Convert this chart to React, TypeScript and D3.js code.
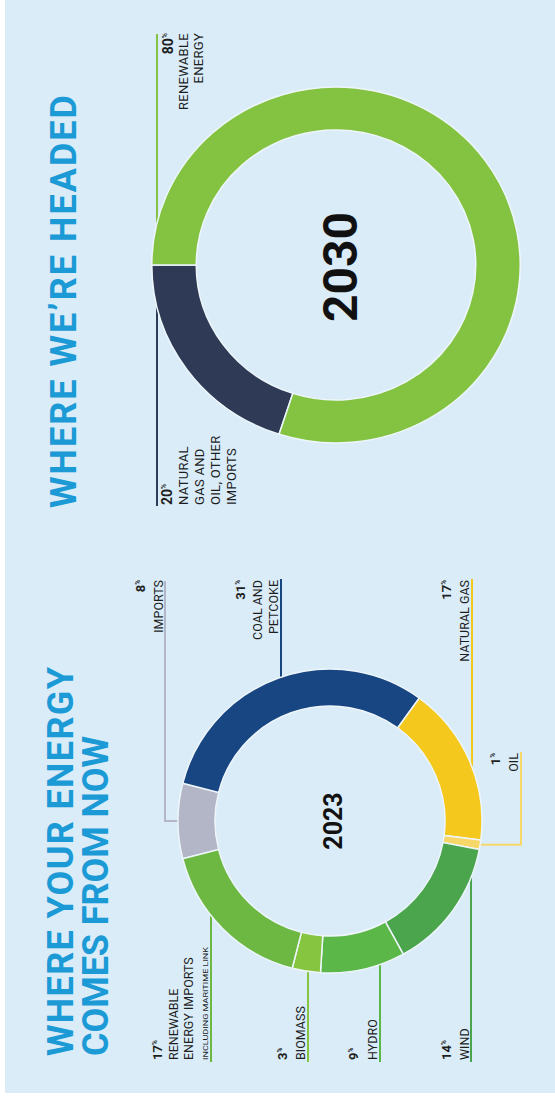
import React from "react";
import * as d3 from "d3";

// ---------- DATA ----------
const nowCategories = [
  "IMPORTS",
  "COAL AND PETCOKE",
  "NATURAL GAS",
  "OIL",
  "WIND",
  "HYDRO",
  "BIOMASS",
  "RENEWABLE ENERGY IMPORTS",
];
const nowValues = [8, 31, 17, 1, 14, 9, 3, 17];
const nowColors = ["#b3b6c6", "#174682", "#f4c81c", "#f8d769", "#4aa54c", "#5bb747", "#86c540", "#6cb843"];

const futureCategories = ["NATURAL GAS AND OIL, OTHER IMPORTS", "RENEWABLE ENERGY"];
const futureValues = [20, 80];
const futureColors = ["#2f3b56", "#84c341"];

const nowTitle = ["WHERE YOUR ENERGY", "COMES FROM NOW"];
const futureTitle = "WHERE WE\u2019RE HEADED";

// label text lines (per category)
const nowLabelLines: string[][] = [
  ["IMPORTS"],
  ["COAL AND", "PETCOKE"],
  ["NATURAL GAS"],
  ["OIL"],
  ["WIND"],
  ["HYDRO"],
  ["BIOMASS"],
  ["RENEWABLE", "ENERGY IMPORTS"],
];
const futureLabelLines: string[][] = [
  ["NATURAL", "GAS AND", "OIL, OTHER", "IMPORTS"],
  ["RENEWABLE", "ENERGY"],
];

// ---------- LAYOUT (landscape coordinates, rotated onto the page) ----------
const W = 555;
const H = 1106;
const BG = "#d9ecf8";
const GAP = "#eef6fb";
const FONT = "Roboto, 'Liberation Sans', Arial, sans-serif";
const TITLE_BLUE = "#1b9ad6";
const TEXT = "#1e1e1e";

const nowCx = 285, nowCy = 330, nowR = 152, nowRin = 115;
const futCx = 841, futCy = 336, futR = 178, futRin = 135, futSy = 1.035;

type LabelCfg = {
  side: "right" | "left";
  lineV: number;
  textU: number;
  lineU: number;
  elbow?: boolean;
  firstBase: number;
  step: number;
};
const nowLabelCfg: LabelCfg[] = [
  { side: "right", lineV: 165, textU: 526, lineU: 525, elbow: true, firstBase: 145, step: 17.5 },
  { side: "right", lineV: 281, textU: 526, lineU: 527, firstBase: 245, step: 16.5 },
  { side: "right", lineV: 472, textU: 526, lineU: 527, firstBase: 451, step: 18 },
  { side: "right", lineV: 521, textU: 353, lineU: 354, elbow: true, firstBase: 500, step: 18 },
  { side: "left", lineV: 471, textU: 46, lineU: 44, firstBase: 451, step: 18 },
  { side: "left", lineV: 380, textU: 46, lineU: 44, firstBase: 358, step: 19 },
  { side: "left", lineV: 308, textU: 46, lineU: 44, firstBase: 287, step: 18 },
  { side: "left", lineV: 211, textU: 46, lineU: 44, firstBase: 162, step: 15.5 },
];

function Pct({ v, anchor, x, y, size }: { v: number; anchor: string; x: number; y: number; size: number }) {
  return (
    <text x={x} y={y} textAnchor={anchor} fontFamily={FONT} fill={TEXT}>
      <tspan fontWeight={700} fontSize={size}>{v}</tspan>
      <tspan fontSize={size * 0.5} dy={-size * 0.4} fontWeight={700}>%</tspan>
    </text>
  );
}

export default function App() {
  const nowPie = d3
    .pie<number>()
    .sort(null)
    .startAngle(-0.08 * Math.PI)
    .endAngle(2 * Math.PI - 0.08 * Math.PI)(nowValues);
  const nowArc = d3.arc<d3.PieArcDatum<number>>().innerRadius(nowRin).outerRadius(nowR);

  const futPie = d3
    .pie<number>()
    .sort(null)
    .startAngle(-0.4 * Math.PI)
    .endAngle(2 * Math.PI - 0.4 * Math.PI)(futureValues);
  const futArc = d3.arc<d3.PieArcDatum<number>>().innerRadius(futRin).outerRadius(futR);

  const nowLeaders = nowPie.map((d, i) => {
    const c = nowLabelCfg[i];
    if (c.elbow) {
      const mid = (d.startAngle + d.endAngle) / 2;
      const eu = nowCx + nowR * Math.sin(mid);
      const ev = nowCy - nowR * Math.cos(mid);
      return `M${c.lineU},${c.lineV}L${eu},${c.lineV}L${eu},${ev}`;
    }
    const du = Math.sqrt(Math.max(0, nowR * nowR - (c.lineV - nowCy) ** 2));
    const eu = c.side === "right" ? nowCx + du : nowCx - du;
    return `M${c.lineU},${c.lineV}L${eu},${c.lineV}`;
  });

  return (
    <svg width={W} height={H} style={{ position: "absolute", left: 0, top: 0, display: "block" }}>
      <rect x={0} y={0} width={W} height={H} fill="#ffffff" />
      <g transform={`translate(0,${H}) rotate(-90)`}>
        <rect x={13} y={5} width={H - 13} height={W - 5} fill={BG} />

        {/* ---------- 2023 ---------- */}
        <text fontFamily={FONT} fontWeight={700} fontSize={36} fill={TITLE_BLUE}>
          <tspan x={50} y={73} textLength={389} lengthAdjust="spacing">{nowTitle[0]}</tspan>
        </text>
        <text fontFamily={FONT} fontWeight={700} fontSize={36} fill={TITLE_BLUE}>
          <tspan x={50} y={108} textLength={320} lengthAdjust="spacing">{nowTitle[1]}</tspan>
        </text>

        {nowLeaders.map((p, i) => (
          <path key={"l" + i} d={p} fill="none" stroke={nowColors[i]} strokeWidth={2} />
        ))}

        <g transform={`translate(${nowCx},${nowCy})`}>
          {nowPie.map((d, i) => (
            <path key={nowCategories[i]} d={nowArc(d) || ""} fill={nowColors[i]} stroke={GAP} strokeWidth={1.5} />
          ))}
        </g>
        <text x={nowCx} y={342} textAnchor="middle" fontFamily={FONT} fontWeight={700} fontSize={25} fill="#111">
          2023
        </text>

        {nowValues.map((v, i) => {
          const c = nowLabelCfg[i];
          const anchor = c.side === "right" ? "end" : "start";
          const lines = nowLabelLines[i];
          return (
            <g key={"t" + i}>
              <Pct v={v} anchor={anchor} x={c.textU} y={c.firstBase} size={13} />
              {lines.map((ln, j) => (
                <text
                  key={j}
                  x={c.textU}
                  y={c.firstBase + c.step * (j + 1)}
                  textAnchor={anchor}
                  fontFamily={FONT}
                  fontSize={12.5}
                  fill={TEXT}
                >
                  {ln}
                </text>
              ))}
              {i === 7 && (
                <text x={c.textU} y={208} fontFamily={FONT} fontSize={8} fill={TEXT} textLength={113} lengthAdjust="spacingAndGlyphs">
                  INCLUDING MARITIME LINK
                </text>
              )}
            </g>
          );
        })}

        {/* ---------- 2030 ---------- */}
        <text fontFamily={FONT} fontWeight={700} fontSize={36} fill={TITLE_BLUE}>
          <tspan x={598} y={76} textLength={413} lengthAdjust="spacing">{futureTitle}</tspan>
        </text>

        <path d={`M${futCx},157L1072,157`} stroke={futureColors[1]} strokeWidth={2} fill="none" />
        <path d={`M600,157L${futCx - 4},157`} stroke={futureColors[0]} strokeWidth={2} fill="none" />

        <g transform={`translate(${futCx},${futCy}) scale(1,${futSy})`}>
          {futPie.map((d, i) => (
            <path key={futureCategories[i]} d={futArc(d) || ""} fill={futureColors[i]} stroke={GAP} strokeWidth={1.5} />
          ))}
        </g>
        <text x={futCx - 2} y={357} textAnchor="middle" fontFamily={FONT} fontWeight={700} fontSize={48} fill="#111">
          2030
        </text>

        <Pct v={futureValues[0]} anchor="start" x={601} y={172} size={14} />
        {futureLabelLines[0].map((ln, j) => (
          <text key={j} x={601} y={188 + j * 16} fontFamily={FONT} fontSize={13} letterSpacing={0.3} fill={TEXT}>
            {ln}
          </text>
        ))}
        <Pct v={futureValues[1]} anchor="end" x={1073} y={173} size={14} />
        {futureLabelLines[1].map((ln, j) => (
          <text key={j} x={1073} y={188 + j * 15} textAnchor="end" fontFamily={FONT} fontSize={13} letterSpacing={0.3} fill={TEXT}>
            {ln}
          </text>
        ))}
      </g>
    </svg>
  );
}
